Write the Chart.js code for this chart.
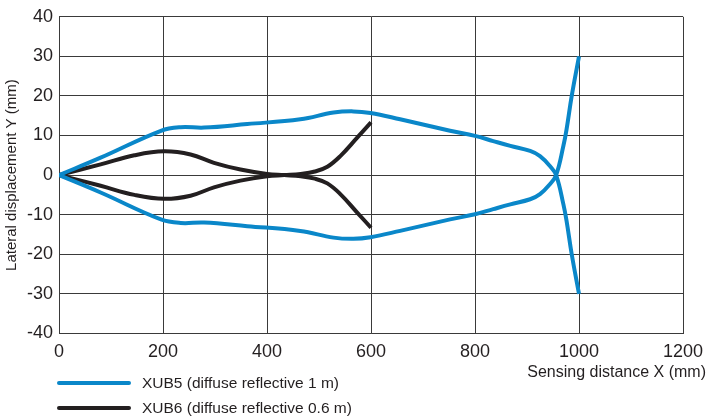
<!DOCTYPE html>
<html>
<head>
<meta charset="utf-8">
<script src="https://cdn.jsdelivr.net/npm/chart.js@4/dist/chart.umd.min.js"></script>
<style>
    body { margin: 0; background: #fff; font-family: "Liberation Sans", Arial, sans-serif; }
    #wrap { position: relative; width: 706px; height: 419px; }
    #legend { position: absolute; left: 57px; top: 370px; font-size: 15.5px; color: #231f20; }
    #xtitle { position: absolute; right: 0px; top: 363px; font-size: 16px; color: #231f20; }
    .item { display: flex; align-items: center; height: 25px; }
    .swatch { width: 74px; height: 4px; margin-right: 11px; border-radius: 2px; }
</style>
</head>
<body>
<div id="wrap">
    <canvas id="chart" width="706" height="419"></canvas>
    <div id="xtitle">Sensing distance X (mm)</div>
    <div id="legend"></div>
</div>
<script>
// XUB5 curves (sensing distance X, lateral displacement Y), upper-left path crossing to lower-right
const xub5X = [0, 80, 196, 234, 279, 362, 464, 528, 566, 599, 656, 752, 800, 835, 868, 906, 925, 944, 956, 970, 976, 986, 1000];
const xub5Y = [0, 4.4, 11.2, 12.1, 12.0, 12.9, 14.1, 15.8, 16.1, 15.7, 14.1, 11.2, 9.9, 8.6, 7.4, 6.1, 4.8, 2.3, 0, -7.4, -11.5, -20, -30];
// XUB6 curves
const xub6X = [0, 80, 145, 202, 253, 298, 349, 400, 433, 465, 492, 516, 541, 573, 600];
const xub6Y = [0, 2.7, 5.0, 6.0, 5.2, 3.1, 1.4, 0.3, 0, -0.3, -0.9, -2.1, -4.8, -9.4, -13.3];

const xTicks = [0, 200, 400, 600, 800, 1000, 1200];
const yTicks = [-40, -30, -20, -10, 0, 10, 20, 30, 40];

const blue = '#0a87c9';
const black = '#231f20';
const tickFont = { size: 18, family: 'Liberation Sans' };

function points(xs, ys, sign) {
    return xs.map((x, i) => ({ x: x, y: sign * ys[i] }));
}

function lineSet(label, data, color, showInLegend) {
    return {
        label: label,
        data: data,
        borderColor: color,
        backgroundColor: color,
        borderWidth: 4,
        pointRadius: 0,
        showLine: true,
        tension: 0.4,
        fill: false,
        inLegend: showInLegend
    };
}

const ctx = document.getElementById('chart').getContext('2d');
const chart = new Chart(ctx, {
    type: 'scatter',
    data: {
        datasets: [
            lineSet('XUB5 (diffuse reflective 1 m)', points(xub5X, xub5Y, 1), blue, true),
            lineSet('XUB5 lower', points(xub5X, xub5Y, -1), blue, false),
            lineSet('XUB6 (diffuse reflective 0.6 m)', points(xub6X, xub6Y, 1), black, true),
            lineSet('XUB6 lower', points(xub6X, xub6Y, -1), black, false)
        ]
    },
    options: {
        responsive: false,
        animation: false,
        layout: { padding: { left: 1, right: 0, top: 10, bottom: 48 } },
        plugins: {
            legend: { display: false },
            tooltip: { enabled: false }
        },
        scales: {
            x: {
                type: 'linear',
                min: 0,
                max: 1200,
                afterBuildTicks: axis => { axis.ticks = xTicks.map(v => ({ value: v })); },
                // let the "1200" label hang a little past the plot, as in the original
                afterFit: axis => { axis.paddingRight = 23; },
                grid: { color: '#3a3a3a', lineWidth: 1, drawTicks: false },
                border: { color: '#3a3a3a' },
                ticks: { color: black, font: tickFont, padding: 8, callback: v => String(v) }
            },
            y: {
                type: 'linear',
                min: -40,
                max: 40,
                afterBuildTicks: axis => { axis.ticks = yTicks.map(v => ({ value: v })); },
                grid: { color: '#3a3a3a', lineWidth: 1, drawTicks: false },
                border: { color: '#3a3a3a' },
                ticks: { color: black, font: tickFont, padding: 6, callback: v => String(v) },
                title: {
                    display: true,
                    text: 'Lateral displacement Y (mm)',
                    color: black,
                    font: { size: 15, family: 'Liberation Sans' },
                    padding: { top: 2, bottom: 0 }
                }
            }
        }
    }
});

// Build the legend from the chart's datasets
const legend = document.getElementById('legend');
chart.data.datasets.filter(d => d.inLegend).forEach(d => {
    const item = document.createElement('div');
    item.className = 'item';
    item.innerHTML = '<span class="swatch" style="background:' + d.borderColor + '"></span><span>' + d.label + '</span>';
    legend.appendChild(item);
});
</script>
</body>
</html>
